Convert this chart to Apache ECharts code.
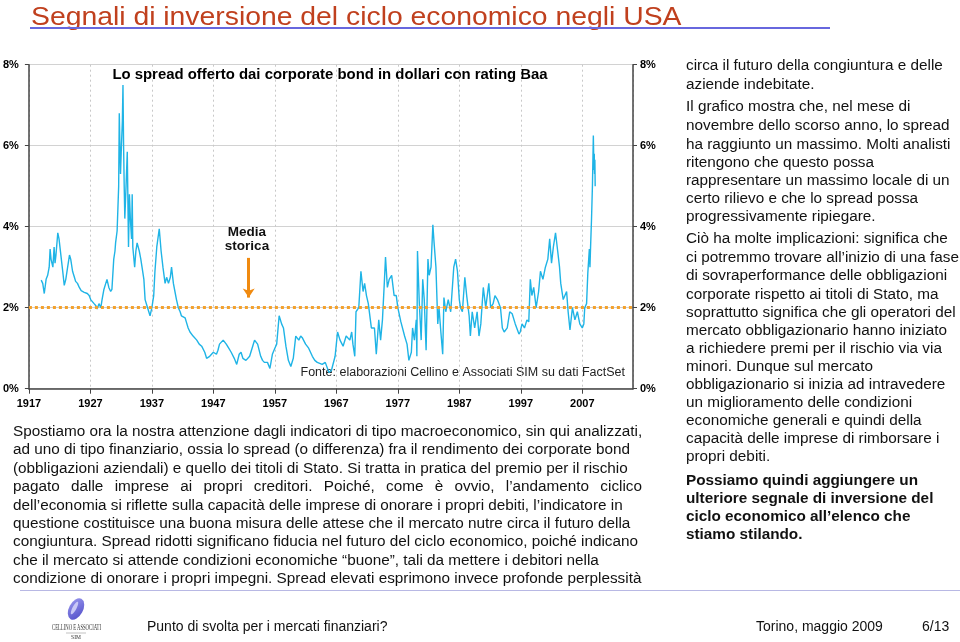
<!DOCTYPE html>
<html>
<head>
<meta charset="utf-8">
<script src="https://cdn.jsdelivr.net/npm/echarts@6/dist/echarts.min.js"></script>
<style>
  html,body{margin:0;padding:0;background:#fff;}
  #slide{position:relative;width:960px;height:642px;overflow:hidden;font-family:"Liberation Sans",Arial,sans-serif;color:#111;}
  #chart{position:absolute;left:0;top:0;width:960px;height:642px;}
  .t{position:absolute;white-space:nowrap;line-height:18px;}
  .r{left:686px;font-size:15.3px;}
  .b{left:13px;font-size:15.3px;}
  .bold{font-weight:bold;}
</style>
</head>
<body>
<div id="slide">
  <div id="chart"></div>
  <div class="t" style="left:31px;top:1px;font-size:25.6px;line-height:30px;color:#c0401e;transform:scaleX(1.107);transform-origin:0 0;">Segnali di inversione del ciclo economico negli USA</div>
  <div style="position:absolute;left:30px;top:27px;width:800px;height:2px;background:#6767de;"></div>
  <div id="right"></div>
  <div id="body"></div>
  <div style="position:absolute;left:20px;top:590px;width:940px;height:1px;background:#b8b8e4;"></div>
  <svg style="position:absolute;left:46px;top:597px;" width="62" height="45">
    <defs><linearGradient id="lg" x1="0" y1="0" x2="1" y2="1"><stop offset="0" stop-color="#9a98ee"/><stop offset="1" stop-color="#4f4cc8"/></linearGradient></defs>
    <ellipse cx="30" cy="12" rx="7" ry="11.5" transform="rotate(28 30 12)" fill="url(#lg)"/>
    <ellipse cx="28.5" cy="11" rx="2" ry="7" transform="rotate(28 28.5 11)" fill="#c9c8f6"/>
    <text x="6" y="33" font-family="Liberation Serif,serif" font-size="7.2" textLength="49" lengthAdjust="spacingAndGlyphs" fill="#333">CELLINO E ASSOCIATI</text>
    <line x1="20" y1="36" x2="40" y2="36" stroke="#999" stroke-width="0.6"/>
    <text x="30" y="42" font-family="Liberation Serif,serif" font-size="5.5" text-anchor="middle" fill="#333">SIM</text>
  </svg>
  <div class="t" style="left:147px;top:617px;font-size:14px;">Punto di svolta per i mercati finanziari?</div>
  <div class="t" style="left:756px;top:617px;font-size:14px;">Torino, maggio 2009</div>
  <div class="t" style="left:922px;top:617px;font-size:14px;">6/13</div>
</div>
<script>
// ---- data ----
const years = [1919.0,1919.25,1919.5,1919.8,1920.05,1920.3,1920.45,1920.6,1920.9,1921.1,1921.25,1921.4,1921.7,1921.9,1922.2,1922.5,1922.75,1923.0,1923.3,1923.6,1923.8,1924.1,1924.4,1924.6,1924.9,1925.2,1925.5,1925.7,1926.0,1926.2,1926.5,1926.8,1927.05,1927.3,1927.6,1927.9,1928.1,1928.4,1928.7,1928.9,1929.2,1929.5,1929.7,1930.0,1930.3,1930.5,1930.8,1931.0,1931.1,1931.35,1931.6,1931.7,1931.9,1932.05,1932.2,1932.3,1932.4,1932.5,1932.6,1932.8,1933.0,1933.2,1933.35,1933.5,1933.7,1933.8,1933.9,1934.2,1934.4,1934.6,1934.95,1935.2,1935.4,1935.7,1935.9,1936.3,1936.7,1937.0,1937.3,1937.5,1937.8,1938.2,1938.5,1938.8,1939.15,1939.4,1939.7,1940.0,1940.2,1940.5,1940.75,1941.0,1941.3,1941.6,1941.8,1942.1,1942.4,1942.6,1942.9,1943.2,1943.7,1944.3,1944.7,1945.1,1945.6,1945.9,1946.4,1947.0,1947.5,1947.75,1948.0,1948.6,1949.1,1949.5,1949.9,1950.4,1950.8,1951.2,1951.5,1951.8,1952.3,1952.9,1953.4,1953.7,1954.2,1954.7,1955.0,1955.3,1955.8,1956.2,1956.6,1957.0,1957.3,1957.7,1958.1,1958.4,1958.8,1959.2,1959.6,1960.0,1960.4,1960.9,1961.2,1961.5,1962.0,1962.5,1963.1,1963.5,1963.9,1964.7,1965.2,1965.8,1966.2,1966.8,1967.0,1967.2,1967.6,1968.1,1968.6,1969.2,1969.5,1969.7,1970.0,1970.2,1970.4,1970.65,1971.0,1971.35,1971.6,1971.9,1972.2,1972.7,1973.2,1973.5,1973.9,1974.2,1974.5,1974.8,1975.0,1975.3,1975.6,1976.0,1976.4,1976.75,1977.0,1977.5,1978.1,1978.5,1978.8,1979.2,1979.4,1979.7,1980.0,1980.1,1980.2,1980.5,1980.8,1981.05,1981.3,1981.6,1981.9,1982.1,1982.4,1982.7,1982.9,1983.2,1983.5,1983.7,1984.0,1984.3,1984.5,1984.8,1985.2,1985.6,1986.1,1986.4,1986.7,1987.0,1987.2,1987.5,1987.9,1988.2,1988.6,1988.8,1989.1,1989.5,1989.9,1990.2,1990.5,1990.9,1991.3,1991.8,1992.1,1992.5,1992.8,1993.2,1993.7,1994.0,1994.3,1994.8,1995.2,1995.6,1996.1,1996.7,1996.9,1997.2,1997.6,1998.0,1998.3,1998.55,1998.8,1999.1,1999.5,1999.9,2000.2,2000.6,2001.0,2001.4,2001.7,2002.0,2002.3,2002.65,2003.0,2003.3,2003.5,2003.9,2004.2,2004.45,2004.7,2005.0,2005.4,2005.8,2006.2,2006.6,2007.0,2007.25,2007.4,2007.7,2007.9,2008.15,2008.25,2008.35,2008.5,2008.65,2008.8,2008.9,2008.95,2009.0,2009.05,2009.1];
const spread = [2.68,2.6,2.35,2.7,2.8,3.0,3.45,3.2,3.0,3.5,3.1,3.3,3.85,3.7,3.3,2.9,2.55,2.7,3.0,3.3,3.2,2.9,2.75,2.65,2.6,2.5,2.42,2.45,2.38,2.4,2.35,2.3,2.2,2.18,2.1,2.05,1.97,2.1,2.0,2.2,2.45,2.6,2.7,2.5,2.4,2.45,3.2,3.4,3.6,3.9,5.0,6.8,5.3,6.0,6.6,7.5,6.0,5.0,4.2,5.0,5.85,3.5,4.8,4.2,3.7,4.8,3.5,3.0,3.4,3.6,3.4,3.2,3.0,2.7,2.2,2.0,1.8,2.0,2.3,2.9,3.5,3.95,3.4,3.0,2.6,2.75,2.6,2.75,3.0,2.6,2.4,2.2,2.0,1.9,1.8,1.8,1.75,1.65,1.5,1.4,1.3,1.2,1.1,1.05,0.9,0.75,0.8,0.9,0.85,0.95,1.1,1.2,1.1,1.0,0.9,0.75,0.6,0.85,0.9,0.75,0.7,0.8,1.05,1.2,1.1,0.8,0.7,0.65,0.65,0.5,0.85,1.0,1.1,1.8,1.6,1.5,1.05,0.7,0.55,0.75,1.3,1.2,1.3,1.25,1.1,1.0,0.8,0.7,0.65,0.6,0.65,0.4,0.45,0.8,1.1,1.4,1.2,1.05,1.3,1.2,1.4,1.1,0.8,1.9,1.9,2.0,2.9,2.4,2.6,2.3,2.1,1.5,1.5,0.85,1.7,1.2,1.7,2.6,3.25,2.5,2.7,2.8,2.3,2.3,2.0,1.65,1.3,1.1,0.7,0.9,1.5,1.2,1.7,0.8,3.4,2.1,1.2,2.7,2.2,0.95,3.2,2.8,3.0,4.05,3.6,3.0,1.6,2.0,1.4,0.85,2.25,1.9,2.2,1.9,3.0,3.2,2.9,2.2,2.0,1.9,2.75,2.3,1.8,1.3,1.9,1.5,1.9,1.3,1.6,2.5,2.0,2.6,2.0,2.1,2.3,2.2,2.0,1.5,1.4,1.5,1.9,1.85,1.6,1.35,1.4,1.6,1.5,1.7,1.65,2.7,2.3,2.5,2.0,2.4,2.9,2.7,3.0,3.2,3.7,3.1,3.5,3.85,3.4,3.0,2.6,2.2,2.2,2.4,1.9,1.45,2.0,1.7,1.9,1.6,1.5,1.6,2.0,2.1,2.85,3.45,3.0,3.5,4.17,5.0,6.25,5.4,5.8,5.3,5.65,5.0];
const historicalMean = 2;
const chartTitle = 'Lo spread offerto dai corporate bond in dollari con rating Baa';
const sourceNote = 'Fonte: elaborazioni Cellino e Associati SIM su dati FactSet';
const meanLabel = ['Media', 'storica'];

const rightLines = [
  ['circa il futuro della congiuntura e delle',65],
  ['aziende indebitate.',84],
  ['Il grafico mostra che, nel mese di',106],
  ['novembre dello scorso anno, lo spread',125],
  ['ha raggiunto un massimo. Molti analisti',144],
  ['ritengono che questo possa',162],
  ['rappresentare un massimo locale di un',180],
  ['certo rilievo e che lo spread possa',198],
  ['progressivamente ripiegare.',216],
  ['Ciò ha molte implicazioni: significa che',238],
  ['ci potremmo trovare all’inizio di una fase',257],
  ['di sovraperformance delle obbligazioni',275],
  ['corporate rispetto ai titoli di Stato, ma',294],
  ['soprattutto significa che gli operatori del',312],
  ['mercato obbligazionario hanno iniziato',330],
  ['a richiedere premi per il rischio via via',348],
  ['minori. Dunque sul mercato',366],
  ['obbligazionario si inizia ad intravedere',384],
  ['un miglioramento delle condizioni',402],
  ['economiche generali e quindi della',420],
  ['capacità delle imprese di rimborsare i',438],
  ['propri debiti.',456]
];
const rightBold = [
  ['Possiamo quindi aggiungere un',480],
  ['ulteriore segnale di inversione del',498],
  ['ciclo economico all’elenco che',516],
  ['stiamo stilando.',534]
];
const bodyLines = [
  ['Spostiamo ora la nostra attenzione dagli indicatori di tipo macroeconomico, sin qui analizzati,',431],
  ['ad uno di tipo finanziario, ossia lo spread (o differenza) fra il rendimento dei corporate bond',449],
  ['(obbligazioni aziendali) e quello dei titoli di Stato. Si tratta in pratica del premio per il rischio',467.5],
  ['pagato dalle imprese ai propri creditori. Poiché, come è ovvio, l’andamento ciclico',486,true],
  ['dell’economia si riflette sulla capacità delle imprese di onorare i propri debiti, l’indicatore in',504.5],
  ['questione costituisce una buona misura delle attese che il mercato nutre circa il futuro della',522.5],
  ['congiuntura. Spread ridotti significano fiducia nel futuro del ciclo economico, poiché indicano',541],
  ['che il mercato si attende condizioni economiche “buone”, tali da mettere i debitori nella',559.5],
  ['condizione di onorare i propri impegni. Spread elevati esprimono invece profonde perplessità',578]
];

function addLines(containerId, lines, cls){
  const c = document.getElementById(containerId);
  lines.forEach(l=>{
    const d = document.createElement('div');
    d.className = 't ' + cls;
    d.style.top = (l[1]-9) + 'px';
    d.textContent = l[0];
    if (l[2]) { d.style.width='629px'; d.style.textAlign='justify'; d.style.textAlignLast='justify'; }
    c.appendChild(d);
  });
}
addLines('right', rightLines, 'r');
addLines('right', rightBold, 'r bold');
addLines('body', bodyLines, 'b');

const chart = echarts.init(document.getElementById('chart'), null, {renderer:'canvas'});
const lblStyle = {fontFamily:'Liberation Sans, Arial', fontSize:11, fontWeight:'bold', color:'#000'};
const arrowYear = 1952.75;
chart.setOption({
  animation:false,
  grid:{left:26, right:327, top:64.7, bottom:253.3},
  xAxis:{
    type:'value', min:1917, max:2015.25, interval:10,
    axisLine:{lineStyle:{color:'#444', width:1.5}},
    axisTick:{show:true, length:5, lineStyle:{color:'#444'}},
    axisLabel:Object.assign({margin:10, showMaxLabel:false, formatter:v=>String(Math.round(v))}, lblStyle),
    splitLine:{show:true, lineStyle:{color:'#c8c8c8', type:[2,3], width:1}}
  },
  yAxis:[
    {type:'value', min:0, max:8, interval:2, position:'left',
     axisLine:{show:true, lineStyle:{color:'#444', width:1.5}},
     axisTick:{show:true, length:4, lineStyle:{color:'#444'}},
     axisLabel:Object.assign({margin:10, formatter:'{value}%'}, lblStyle),
     splitLine:{show:true, lineStyle:{color:'#d2d2d2', width:1}}},
    {type:'value', min:0, max:8, interval:2, position:'right',
     axisLine:{show:true, lineStyle:{color:'#444', width:1.5}},
     axisTick:{show:true, length:4, lineStyle:{color:'#444'}},
     axisLabel:Object.assign({margin:7, formatter:'{value}%'}, lblStyle),
     splitLine:{show:false}}
  ],
  series:[{
    type:'line', showSymbol:false, symbol:'none',
    data: years.map((y,i)=>[y, spread[i]]),
    lineStyle:{color:'#1fb4e6', width:1.4},
    z:3,
    markLine:{
      silent:true, symbol:'none',
      label:{show:false},
      lineStyle:{color:'#f3a12c', width:3, type:[3,3]},
      data:[{yAxis: historicalMean}]
    }
  },{
    type:'line', data:[],
    markLine:{
      silent:true, symbol:['none','arrow'], symbolSize:[9,9],
      label:{show:false},
      lineStyle:{color:'#f08a10', width:3, type:'solid'},
      data:[[{coord:[arrowYear, 3.23]},{coord:[arrowYear, 2.25]}]]
    }
  }],
  graphic:[
    {type:'text', style:{text:chartTitle, x:330, y:75, align:'center', verticalAlign:'middle', font:'bold 14.9px "Liberation Sans", Arial', fill:'#000'}},
    {type:'text', style:{text:meanLabel[0], x:247, y:232.5, align:'center', verticalAlign:'middle', font:'bold 13.5px "Liberation Sans", Arial', fill:'#111'}},
    {type:'text', style:{text:meanLabel[1], x:247, y:246.5, align:'center', verticalAlign:'middle', font:'bold 13.5px "Liberation Sans", Arial', fill:'#111'}},
    {type:'text', style:{text:sourceNote, x:625, y:373, align:'right', verticalAlign:'middle', font:'12.5px "Liberation Sans", Arial', fill:'#222'}}
  ]
});
</script>
</body>
</html>
